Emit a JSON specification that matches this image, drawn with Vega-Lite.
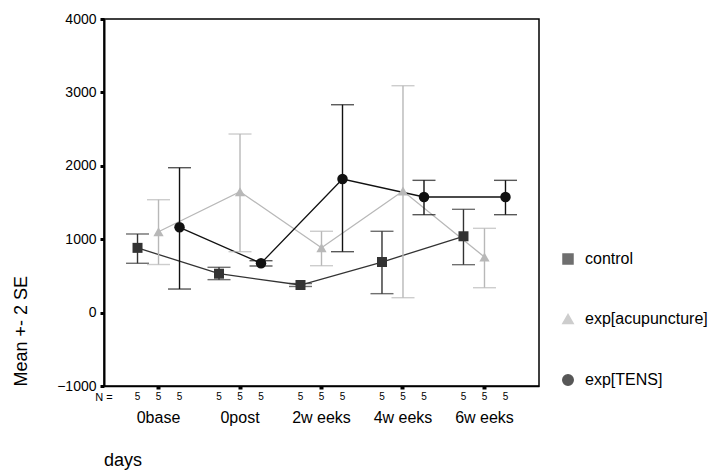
{
  "$schema": "https://vega.github.io/schema/vega-lite/v6.json",
  "width": 435,
  "height": 367,
  "autosize": {"type": "none"},
  "padding": {"left": 104, "top": 19, "right": 184, "bottom": 85},
  "background": "white",
  "config": {
    "font": "Liberation Sans",
    "view": {"stroke": "#000", "strokeWidth": 1.5},
    "axis": {"grid": false, "domainColor": "#000", "tickColor": "#000", "labelColor": "#000", "titleColor": "#000", "labelFont": "Liberation Sans", "titleFont": "Liberation Sans", "titleFontWeight": "normal"}
  },
  "title": {"text": "days", "orient": "bottom", "anchor": "start", "frame": "group", "fontSize": 18, "font": "Liberation Sans", "fontWeight": "normal", "color": "#000", "offset": 27},
  "data": {"values": [
    {"day": "0base", "group": "control", "mean": 882, "lo": 672, "hi": 1071, "n": 5},
    {"day": "0base", "group": "exp[acupuncture]", "mean": 1102, "lo": 655, "hi": 1538, "n": 5},
    {"day": "0base", "group": "exp[TENS]", "mean": 1162, "lo": 321, "hi": 1974, "n": 5},
    {"day": "0post", "group": "control", "mean": 530, "lo": 449, "hi": 617, "n": 5},
    {"day": "0post", "group": "exp[acupuncture]", "mean": 1647, "lo": 830, "hi": 2433, "n": 5},
    {"day": "0post", "group": "exp[TENS]", "mean": 672, "lo": 635, "hi": 707, "n": 5},
    {"day": "2w eeks", "group": "control", "mean": 376, "lo": 356, "hi": 396, "n": 5},
    {"day": "2w eeks", "group": "exp[acupuncture]", "mean": 884, "lo": 639, "hi": 1108, "n": 5},
    {"day": "2w eeks", "group": "exp[TENS]", "mean": 1820, "lo": 830, "hi": 2832, "n": 5},
    {"day": "4w eeks", "group": "control", "mean": 689, "lo": 258, "hi": 1108, "n": 5},
    {"day": "4w eeks", "group": "exp[acupuncture]", "mean": 1657, "lo": 203, "hi": 3091, "n": 5},
    {"day": "4w eeks", "group": "exp[TENS]", "mean": 1575, "lo": 1334, "hi": 1802, "n": 5},
    {"day": "6w eeks", "group": "control", "mean": 1040, "lo": 653, "hi": 1407, "n": 5},
    {"day": "6w eeks", "group": "exp[acupuncture]", "mean": 757, "lo": 339, "hi": 1148, "n": 5},
    {"day": "6w eeks", "group": "exp[TENS]", "mean": 1575, "lo": 1334, "hi": 1802, "n": 5}
  ]},
  "encoding": {
    "x": {"field": "day", "type": "nominal", "sort": ["0base", "0post", "2w eeks", "4w eeks", "6w eeks"],
      "scale": {"type": "band", "paddingInner": 0, "paddingOuter": 0.169},
      "axis": {"labelAngle": 0, "labelFontSize": 16, "labelPadding": 20, "tickSize": 3, "tickWidth": 4, "bandPosition": 0.5, "domainWidth": 1.5,
        "title": "N =", "titleFontSize": 11, "titleX": -0.5, "titleY": 11, "titleAlign": "center", "titleBaseline": "middle"}},
    "xOffset": {"field": "group", "type": "nominal", "sort": ["control", "exp[acupuncture]", "exp[TENS]"],
      "scale": {"paddingInner": 0, "paddingOuter": 0.44}},
    "color": {"field": "group", "type": "nominal", "sort": ["control", "exp[acupuncture]", "exp[TENS]"],
      "scale": {"domain": ["control", "exp[acupuncture]", "exp[TENS]"], "range": ["#333333", "#b8b8b8", "#111111"]},
      "legend": {"orient": "none", "legendX": 456, "legendY": 232, "title": null, "padding": 0, "rowPadding": 44,
        "labelFontSize": 16, "labelFont": "Liberation Sans", "labelColor": "#000", "labelOffset": 9, "labelLimit": 200}}
  },
  "layer": [
    {"mark": {"type": "line", "strokeWidth": 1.3},
     "encoding": {"y": {"field": "mean", "type": "quantitative", "scale": {"domain": [-1000, 4000], "nice": false, "zero": false},
       "axis": {"values": [-1000, 0, 1000, 2000, 3000, 4000], "format": "d", "labelFontSize": 14, "tickSize": 4, "tickWidth": 3, "labelPadding": 4, "domainWidth": 2,
         "title": "Mean +- 2 SE", "titleFontSize": 18, "titleAngle": -90, "titleX": -83, "titleY": 367, "titleAlign": "left", "titleBaseline": "middle"}}}},
    {"mark": {"type": "rule", "strokeWidth": 1.4},
     "encoding": {"y": {"field": "lo", "type": "quantitative"}, "y2": {"field": "hi"}}},
    {"mark": {"type": "tick", "size": 23, "thickness": 1.4, "orient": "horizontal"},
     "encoding": {"y": {"field": "lo", "type": "quantitative"}}},
    {"mark": {"type": "tick", "size": 23, "thickness": 1.4, "orient": "horizontal"},
     "encoding": {"y": {"field": "hi", "type": "quantitative"}}},
    {"mark": {"type": "point", "filled": true, "opacity": 1},
     "encoding": {"y": {"field": "mean", "type": "quantitative"},
       "shape": {"field": "group", "type": "nominal", "scale": {"domain": ["control", "exp[acupuncture]", "exp[TENS]"], "range": ["square", "triangle-up", "circle"]}, "legend": null},
       "size": {"field": "group", "type": "nominal", "scale": {"domain": ["control", "exp[acupuncture]", "exp[TENS]"], "range": [100, 110, 170]}, "legend": null}}},
    {"mark": {"type": "text", "fontSize": 10, "baseline": "middle", "color": "#000"},
     "encoding": {"y": {"datum": -1150}, "text": {"field": "n", "type": "quantitative"}, "color": {"value": "#000"}}}
  ]
}
